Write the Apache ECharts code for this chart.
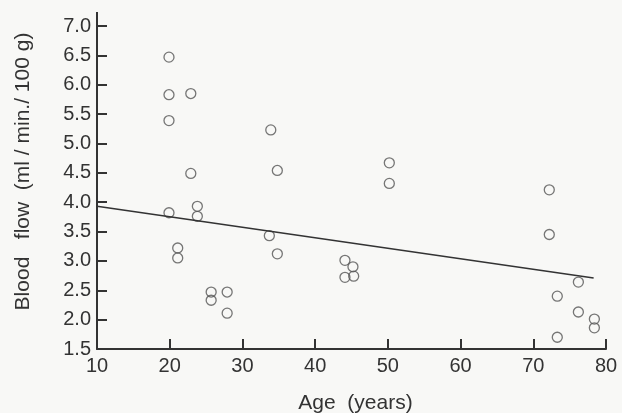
<!DOCTYPE html>
<html>
<head>
<meta charset="utf-8">
<script src="https://cdn.jsdelivr.net/npm/echarts@6/dist/echarts.min.js"></script>
<style>
  html, body { margin: 0; padding: 0; background: #f8f8f6; }
  #chart { width: 622px; height: 413px; }
</style>
</head>
<body>
<div id="chart"></div>
<script>
// age (years) and blood flow (ml/min./100 g)
const ages = [19.9, 19.9, 22.9, 19.9, 33.9, 22.9, 34.8, 19.9, 23.8, 23.8, 21.1, 21.1,
  33.7, 34.8, 25.7, 25.7, 27.9, 27.9, 50.2, 50.2, 72.2, 72.2, 44.1, 45.2, 44.1, 45.3,
  76.2, 73.3, 76.2, 78.4, 78.4, 73.3];
const flows = [6.47, 5.83, 5.85, 5.39, 5.23, 4.49, 4.54, 3.82, 3.93, 3.76, 3.22, 3.05,
  3.43, 3.12, 2.47, 2.33, 2.47, 2.11, 4.67, 4.32, 4.21, 3.45, 3.01, 2.90, 2.72, 2.74,
  2.64, 2.40, 2.13, 2.01, 1.86, 1.70];
// regression line end points
const fitAges = [10, 78.3];
const fitFlows = [3.93, 2.71];

const font = "'Liberation Sans', Arial, sans-serif";
const ink = '#333';

const chart = echarts.init(document.getElementById('chart'));
chart.setOption({
  backgroundColor: '#f8f8f6',
  animation: false,
  grid: { left: 97, right: 16, top: 26, bottom: 64, outerBoundsMode: 'none' },
  xAxis: {
    type: 'value',
    min: 10, max: 80, interval: 10,
    name: 'Age  (years)',
    nameLocation: 'middle',
    nameGap: 44,
    nameTextStyle: { fontFamily: font, fontSize: 21, color: ink, padding: [0, 0, 0, 8] },
    axisLine: { lineStyle: { color: ink, width: 2 } },
    axisTick: { inside: true, length: 10, lineStyle: { color: ink, width: 2 } },
    axisLabel: { fontFamily: font, fontSize: 20, color: ink, margin: 7 },
    splitLine: { show: false }
  },
  yAxis: {
    type: 'value',
    min: 1.5, max: 7.0, interval: 0.5,
    name: 'Blood   flow  (ml / min./ 100 g)',
    nameLocation: 'middle',
    nameGap: 63,
    nameTextStyle: { fontFamily: font, fontSize: 21, color: ink, padding: [0, 0, 0, 32] },
    axisLine: { lineStyle: { color: ink, width: 2 } },
    axisTick: { inside: true, length: 10, lineStyle: { color: ink, width: 2 } },
    axisLabel: {
      fontFamily: font, fontSize: 20, color: ink, margin: 6,
      formatter: v => v.toFixed(1)
    },
    splitLine: { show: false }
  },
  series: [
    {
      type: 'scatter',
      data: ages.map((a, i) => [a, flows[i]]),
      symbol: 'circle',
      symbolSize: 10,
      itemStyle: { color: 'transparent', borderColor: '#555', borderWidth: 1.3 }
    },
    {
      type: 'line',
      data: fitAges.map((a, i) => [a, fitFlows[i]]),
      showSymbol: false,
      lineStyle: { color: ink, width: 1.5 }
    }
  ]
});

// the y axis line runs a little above the 7.0 tick
const axisTop = chart.convertToPixel({ gridIndex: 0 }, [10, 7.0]);
chart.setOption({
  graphic: [{
    type: 'line',
    shape: { x1: axisTop[0], y1: axisTop[1], x2: axisTop[0], y2: axisTop[1] - 14 },
    style: { stroke: ink, lineWidth: 2 }
  }]
});
</script>
</body>
</html>
